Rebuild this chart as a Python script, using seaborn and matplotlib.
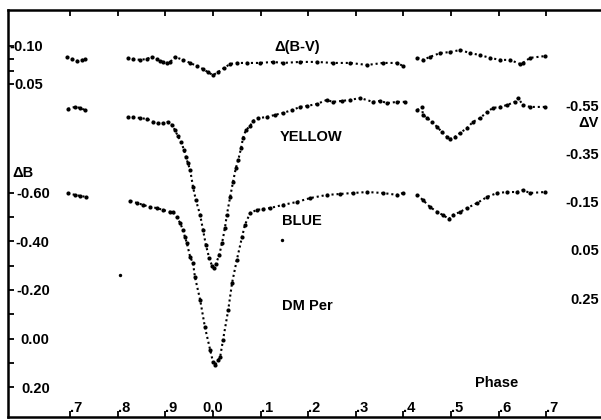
import matplotlib
matplotlib.use('Agg')
import matplotlib.pyplot as plt
import seaborn as sns
import pandas as pd

sns.set_theme(style="ticks")
plt.rcParams['font.family'] = ['Liberation Sans', 'DejaVu Sans']
plt.rcParams['font.weight'] = 'bold'

# Δ(B-V) curve, three observing runs (phase, mag)
bv_phase_a = [-0.307, -0.296, -0.286, -0.275, -0.269]
bv_mag_a = [-0.057, -0.049, -0.041, -0.045, -0.049]
bv_phase_b = [-0.179, -0.168, -0.153, -0.139, -0.128, -0.118, -0.111, -0.105, -0.097, -0.090,
              -0.080, -0.063, -0.048, -0.034, -0.021, -0.011, 0.000, 0.011, 0.023, 0.036,
              0.050, 0.071, 0.099, 0.126, 0.147, 0.183, 0.218, 0.252, 0.288, 0.324,
              0.357, 0.387, 0.399]
bv_mag_b = [-0.053, -0.049, -0.045, -0.049, -0.057, -0.049, -0.041, -0.037, -0.033, -0.037,
            -0.057, -0.045, -0.033, -0.021, -0.009, 0.003, 0.015, 0.003, -0.013, -0.029,
            -0.033, -0.033, -0.033, -0.037, -0.033, -0.037, -0.037, -0.033, -0.033, -0.025,
            -0.033, -0.033, -0.021]
bv_phase_c = [0.429, 0.441, 0.456, 0.477, 0.498, 0.519, 0.540, 0.561, 0.582, 0.603,
              0.624, 0.645, 0.651, 0.666, 0.697]
bv_mag_c = [-0.053, -0.045, -0.057, -0.072, -0.076, -0.084, -0.072, -0.064, -0.053, -0.045,
            -0.045, -0.029, -0.033, -0.053, -0.060]

# YELLOW (ΔV)
v_phase_a = [-0.305, -0.290, -0.279, -0.269]
v_mag_a = [-0.534, -0.542, -0.538, -0.529]
v_phase_b = [-0.179, -0.168, -0.153, -0.139, -0.126, -0.116, -0.105, -0.095, -0.086, -0.080,
             -0.074, -0.067, -0.061, -0.057, -0.053, -0.048, -0.042, -0.036, -0.027, -0.021,
             -0.015, -0.008, -0.002, 0.002, 0.006, 0.013, 0.019, 0.025, 0.029, 0.036,
             0.042, 0.048, 0.053, 0.059, 0.063, 0.069, 0.078, 0.084, 0.095, 0.113,
             0.130, 0.147, 0.166, 0.183, 0.197, 0.218, 0.239, 0.252, 0.271, 0.288,
             0.309, 0.336, 0.351, 0.366, 0.387, 0.403]
v_mag_b = [-0.500, -0.500, -0.496, -0.492, -0.480, -0.475, -0.475, -0.480, -0.467, -0.446,
           -0.422, -0.397, -0.364, -0.335, -0.310, -0.281, -0.210, -0.156, -0.094, -0.032,
           0.030, 0.084, 0.117, 0.126, 0.109, 0.072, 0.022, -0.040, -0.094, -0.169,
           -0.231, -0.289, -0.322, -0.372, -0.413, -0.446, -0.463, -0.484, -0.496, -0.500,
           -0.509, -0.517, -0.529, -0.542, -0.546, -0.554, -0.571, -0.563, -0.567, -0.571,
           -0.579, -0.563, -0.567, -0.558, -0.563, -0.563]
v_phase_c = [0.429, 0.439, 0.441, 0.450, 0.460, 0.471, 0.481, 0.492, 0.498, 0.508,
             0.519, 0.534, 0.546, 0.561, 0.576, 0.588, 0.603, 0.618, 0.634, 0.641,
             0.651, 0.666, 0.697]
v_mag_c = [-0.529, -0.542, -0.509, -0.496, -0.480, -0.459, -0.438, -0.417, -0.409, -0.417,
           -0.434, -0.455, -0.480, -0.496, -0.521, -0.538, -0.542, -0.550, -0.563, -0.579,
           -0.550, -0.542, -0.542]

# BLUE (ΔB)
b_phase_a = [-0.305, -0.290, -0.279, -0.267]
b_mag_a = [-0.600, -0.592, -0.588, -0.584]
b_phase_b = [-0.174, -0.160, -0.147, -0.132, -0.118, -0.105, -0.090, -0.084, -0.076, -0.069,
             -0.063, -0.059, -0.055, -0.048, -0.042, -0.038, -0.027, -0.017, -0.006, 0.000,
             0.004, 0.011, 0.015, 0.021, 0.032, 0.040, 0.050, 0.061, 0.067, 0.078,
             0.092, 0.105, 0.120, 0.147, 0.176, 0.204, 0.239, 0.267, 0.294, 0.324,
             0.357, 0.387, 0.399]
b_mag_b = [-0.567, -0.559, -0.551, -0.542, -0.538, -0.530, -0.522, -0.522, -0.501, -0.476,
           -0.447, -0.419, -0.394, -0.336, -0.311, -0.254, -0.159, -0.047, 0.047, 0.097,
           0.109, 0.089, 0.076, 0.006, -0.118, -0.229, -0.324, -0.419, -0.468, -0.518,
           -0.530, -0.534, -0.538, -0.551, -0.563, -0.579, -0.592, -0.596, -0.600, -0.604,
           -0.600, -0.592, -0.600]
b_phase_c = [0.429, 0.441, 0.456, 0.471, 0.483, 0.496, 0.504, 0.519, 0.534, 0.555,
             0.576, 0.597, 0.618, 0.639, 0.651, 0.666, 0.697]
b_mag_c = [-0.592, -0.571, -0.542, -0.522, -0.509, -0.493, -0.509, -0.522, -0.538, -0.559,
           -0.584, -0.600, -0.604, -0.604, -0.612, -0.600, -0.604]
b_phase_stray = [-0.195, 0.145]
b_mag_stray = [-0.262, -0.406]

phase_ticks = [-0.3, -0.2, -0.1, 0.0, 0.1, 0.2, 0.3, 0.4, 0.5, 0.6, 0.7]
phase_labels = ['.7', '.8', '.9', '0.0', '.1', '.2', '.3', '.4', '.5', '.6', '.7']
b_ticks = [-0.6, -0.4, -0.2, 0.0, 0.2]
b_labels = ['-0.60', '-0.40', '-0.20', '0.00', '0.20']
bv_ticks = [-0.10, -0.05, 0.0, 0.05]
bv_labels = ['-0.10', '', '', '0.05']
v_ticks = [-0.55, -0.35, -0.15, 0.05, 0.25]
v_labels = ['-0.55', '-0.35', '-0.15', '0.05', '0.25']


def runs(*pairs):
    frames = []
    for i, (p, m) in enumerate(pairs):
        frames.append(pd.DataFrame({'phase': p, 'mag': m, 'run': i}))
    return pd.concat(frames, ignore_index=True)


bv = runs((bv_phase_a, bv_mag_a), (bv_phase_b, bv_mag_b), (bv_phase_c, bv_mag_c))
vv = runs((v_phase_a, v_mag_a), (v_phase_b, v_mag_b), (v_phase_c, v_mag_c))
bb = runs((b_phase_a, b_mag_a), (b_phase_b, b_mag_b), (b_phase_c, b_mag_c))
stray = pd.DataFrame({'phase': b_phase_stray, 'mag': b_mag_stray})

fig = plt.figure(figsize=(6.01, 4.20), dpi=100)
ax = fig.add_axes([8 / 601, 3 / 420, 593 / 601, 407 / 420])
ax_bv = ax.twinx()
ax_v = ax.twinx()


def draw(df, a):
    sns.lineplot(data=df, x='phase', y='mag', units='run', estimator=None, sort=True,
                 color='black', lw=1.5, linestyle=(0, (1, 1.4)), ax=a)
    sns.scatterplot(data=df, x='phase', y='mag', color='black', s=9, linewidth=0, ax=a)


draw(bb, ax)
sns.scatterplot(data=stray, x='phase', y='mag', color='black', s=6, linewidth=0, ax=ax)
draw(bv, ax_bv)
draw(vv, ax_v)

ax.set_xlim(-0.4307, 0.8151)
ax.set_ylim(0.3237, -1.3546)
ax_v.set_ylim(0.7432, -0.9438)
ax_bv.set_ylim(1.3648, -0.2420)

for a in (ax, ax_bv, ax_v):
    a.set_xlabel('')
    a.set_ylabel('')

# frame
for side in ('left', 'top', 'bottom'):
    ax.spines[side].set_linewidth(1.8)
    ax.spines[side].set_color('black')
ax.spines['right'].set_visible(False)
for a in (ax_bv, ax_v):
    for s in a.spines.values():
        s.set_visible(False)

ax.set_xticks(phase_ticks)
ax.set_xticklabels(phase_labels)
ax.tick_params(axis='x', direction='in', top=True, length=4, width=1.3,
               pad=-11.5, labelsize=10.5, colors='black')
for t in ax.get_xticklabels():
    if t.get_text() != '0.0':
        t.set_ha('left')

ax.set_yticks(b_ticks)
ax.set_yticklabels(b_labels)
ax.set_yticks([-0.5, -0.3, -0.1, 0.1], minor=True)
ax.tick_params(axis='y', which='both', direction='in', length=4, width=1.3,
               pad=-30, labelsize=10.5, colors='black', right=False)

ax_bv.yaxis.tick_left()
ax_bv.set_yticks(bv_ticks)
ax_bv.set_yticklabels(bv_labels)
ax_bv.tick_params(axis='y', direction='in', length=4, width=1.3, pad=-25,
                  labelsize=10.5, colors='black')

ax_v.set_yticks(v_ticks)
ax_v.set_yticklabels(v_labels)
ax_v.tick_params(axis='y', length=0, pad=-1.5, labelsize=10.5, colors='black')
for t in ax_v.get_yticklabels():
    t.set_ha('right')

txt = dict(ha='center', va='center', fontsize=10.5, fontweight='bold', color='black')
fig.text(297 / 601, 1 - 47 / 420, 'Δ(B-V)', **txt)
fig.text(311 / 601, 1 - 137 / 420, 'YELLOW', **txt)
fig.text(302 / 601, 1 - 221 / 420, 'BLUE', **txt)
fig.text(307 / 601, 1 - 306 / 420, 'DM Per', **txt)
fig.text(497 / 601, 1 - 383 / 420, 'Phase', **txt)
fig.text(589 / 601, 1 - 123 / 420, 'ΔV', **txt)
fig.text(23 / 601, 1 - 173 / 420, 'ΔB', **txt)

fig.savefig('out.png', dpi=100, facecolor='white')
